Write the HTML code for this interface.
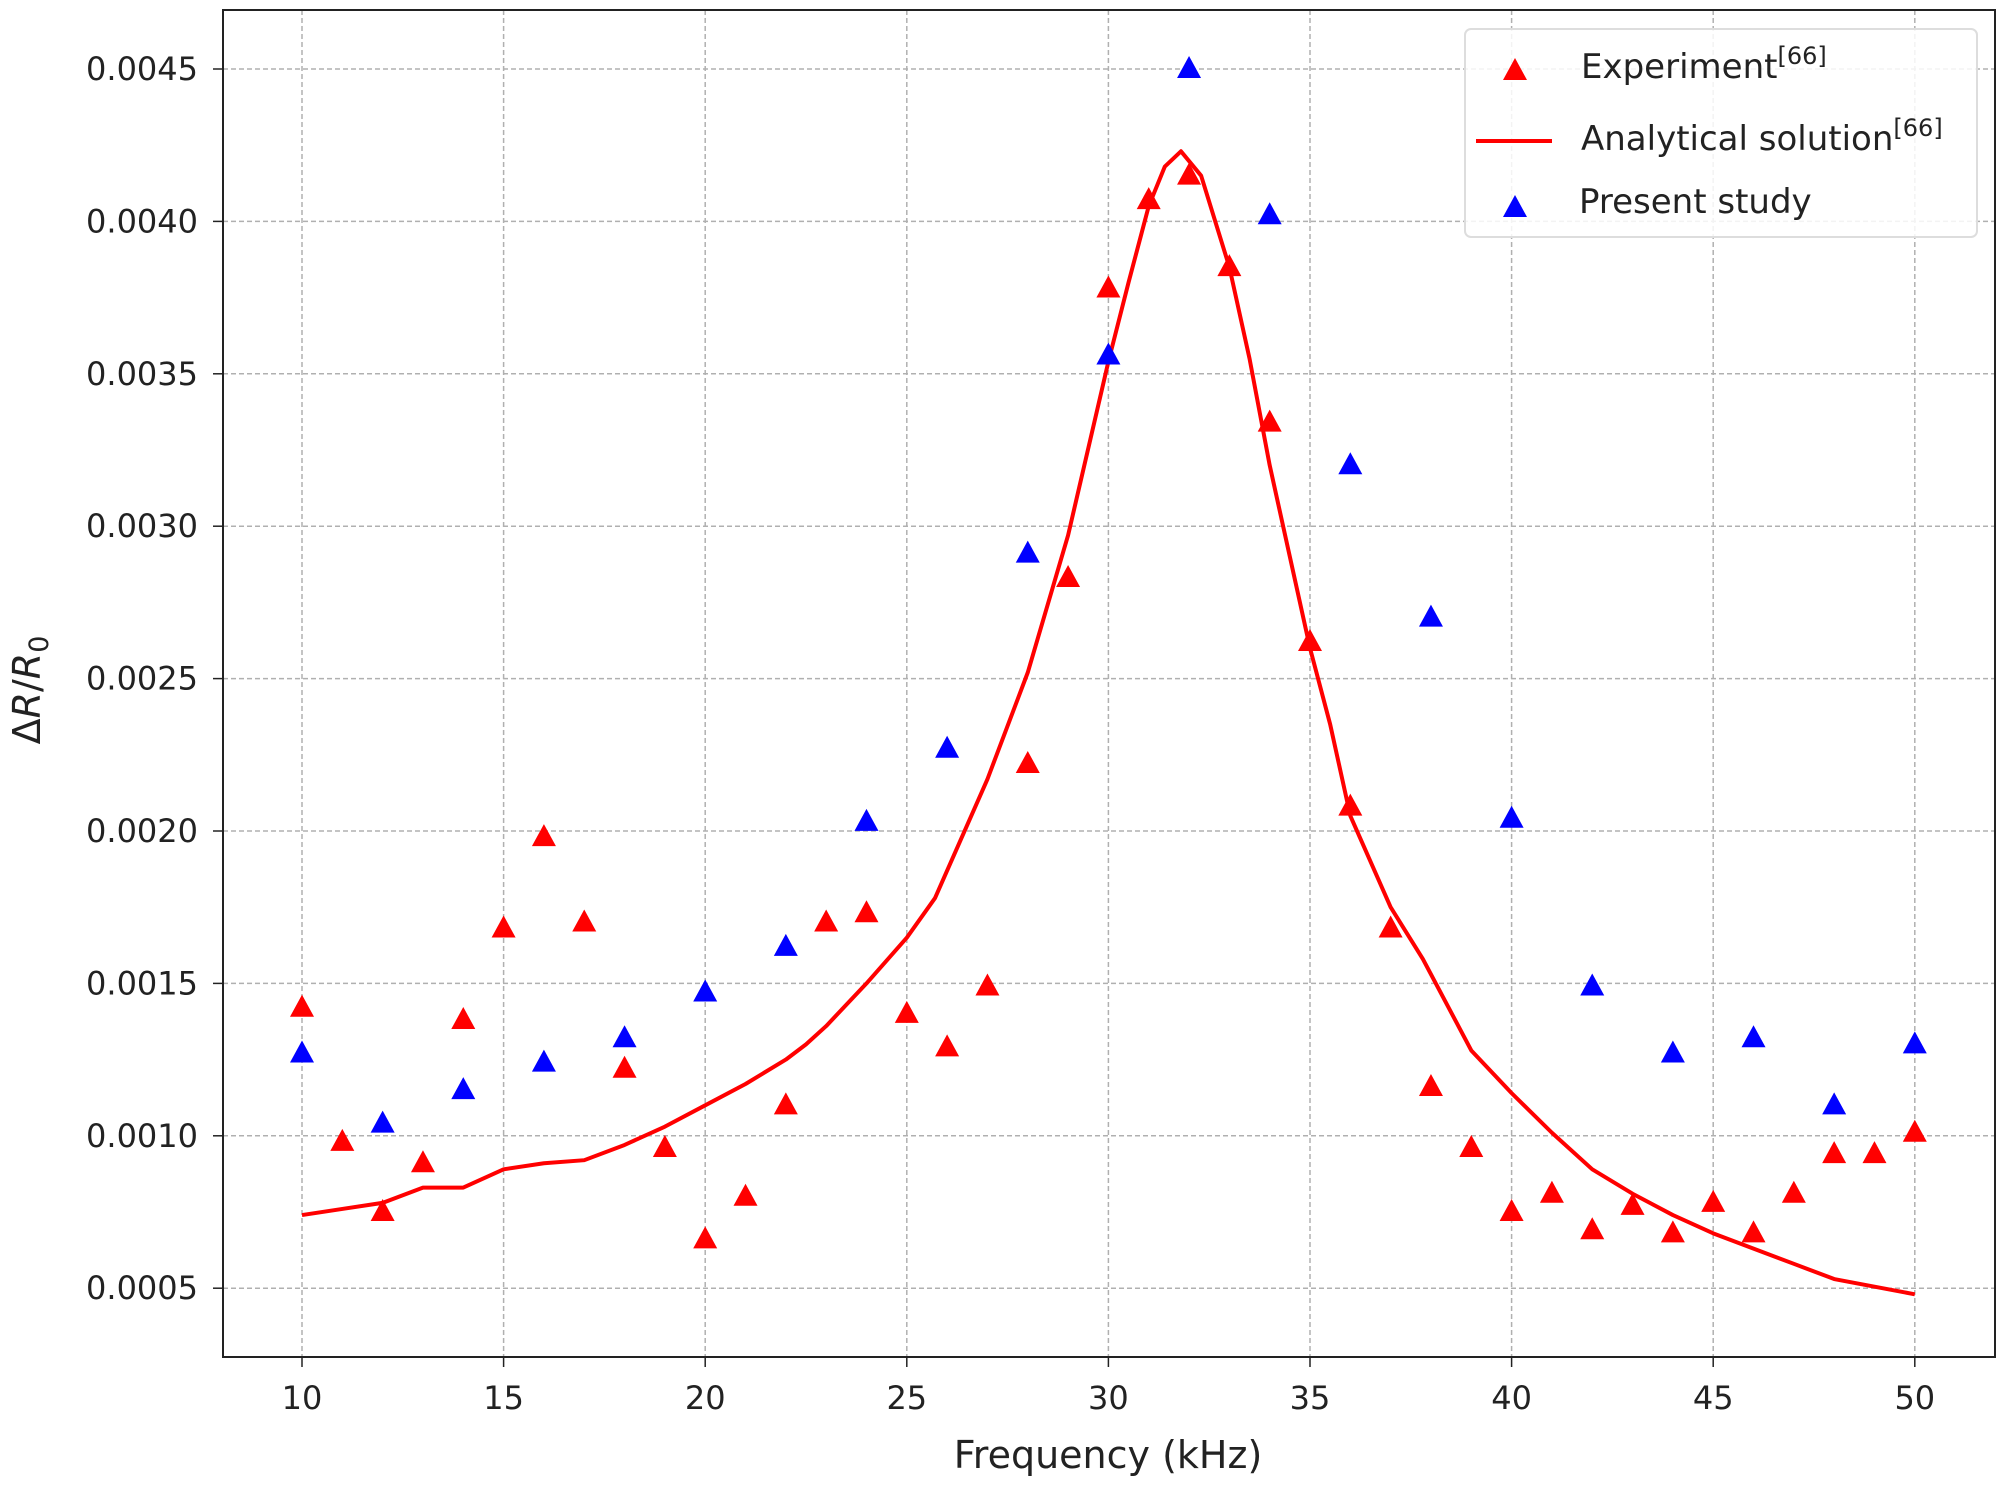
<!DOCTYPE html>
<html><head><meta charset="utf-8"><style>
body{margin:0;background:#fff}
svg text{font-family:"DejaVu Sans","Liberation Sans",sans-serif;fill:#222}
</style></head><body>
<svg id="s" width="2008" height="1487" xmlns="http://www.w3.org/2000/svg"></svg>
<script>
const s=document.getElementById('s');
const X=f=>302+(f-10)*40.32, Y=v=>69+(0.0045-v)/0.0005*152.4;
let h='';
for(let f=10;f<=50;f+=5){const x=X(f);h+=`<line x1="${x}" y1="10" x2="${x}" y2="1357" stroke="#b0b0b0" stroke-width="1.5" stroke-dasharray="5,3"/>`;
h+=`<line x1="${x}" y1="1357" x2="${x}" y2="1367" stroke="#222" stroke-width="1.5"/><text x="${x}" y="1409" font-size="32" text-anchor="middle">${f}</text>`;}
for(let i=1;i<=9;i++){const v=i*0.0005,y=Y(v);h+=`<line x1="223" y1="${y}" x2="1995" y2="${y}" stroke="#b0b0b0" stroke-width="1.5" stroke-dasharray="5,3"/>`;
h+=`<line x1="213" y1="${y}" x2="223" y2="${y}" stroke="#222" stroke-width="1.5"/><text x="198" y="${y+11}" font-size="32" text-anchor="end">${v.toFixed(4)}</text>`;}
const L=[[10,0.00074],[11,0.00076],[12,0.00078],[13,0.00083],[14,0.00083],[15,0.00089],[16,0.00091],[17,0.00092],[18,0.00097],[19,0.00103],[20,0.0011],[21,0.00117],[22,0.00125],[22.5,0.0013],[23,0.00136],[24,0.0015],[25,0.00165],[25.7,0.00178],[27,0.00217],[28,0.00252],[29,0.00297],[30,0.00354],[30.5,0.0038],[31,0.00405],[31.4,0.00418],[31.8,0.00423],[32.3,0.00415],[33,0.00385],[33.5,0.00355],[34,0.0032],[34.5,0.0029],[35,0.0026],[35.5,0.00235],[36,0.00205],[37,0.00175],[37.8,0.00158],[39,0.00128],[40,0.00114],[41,0.00101],[42,0.00089],[43,0.00081],[44,0.00074],[45,0.00068],[46,0.00063],[47,0.00058],[48,0.00053],[50,0.00048]];
h+=`<polyline fill="none" stroke="#f00" stroke-width="4" stroke-linejoin="round" points="${L.map(p=>X(p[0])+','+Y(p[1])).join(' ')}"/>`;
const R=[0.00142,0.00098,0.00075,0.00091,0.00138,0.00168,0.00198,0.0017,0.00122,0.00096,0.00066,0.0008,0.0011,0.0017,0.00173,0.0014,0.00129,0.00149,0.00222,0.00283,0.00378,0.00407,0.00415,0.00385,0.00334,0.00262,0.00208,0.00168,0.00116,0.00096,0.00075,0.00081,0.00069,0.00077,0.00068,0.00078,0.00068,0.00081,0.00094,0.00094,0.00101];
const B=[0.00127,0.00104,0.00115,0.00124,0.00132,0.00147,0.00162,0.00203,0.00227,0.00291,0.00356,0.0045,0.00402,0.0032,0.0027,0.00204,0.00149,0.00127,0.00132,0.0011,0.0013];
const tri=(x,y,c)=>`<polygon points="${x},${y-13} ${x-12},${y+9} ${x+12},${y+9}" fill="${c}"/>`;
R.forEach((v,i)=>h+=tri(X(10+i),Y(v),'#f00'));
B.forEach((v,i)=>h+=tri(X(10+2*i),Y(v),'#00f'));
h+=`<rect x="223" y="10" width="1772" height="1347" fill="none" stroke="#222" stroke-width="2"/>`;
h+=`<rect x="1465" y="29" width="512" height="208" rx="6" fill="#fff" fill-opacity="0.85" stroke="#ddd" stroke-width="2"/>`;
h+=tri(1515,71,'#f00')+`<line x1="1476" y1="141" x2="1552" y2="141" stroke="#f00" stroke-width="4"/>`+tri(1515,208,'#00f');
h+=`<text x="1581" y="78" font-size="34">Experiment<tspan font-size="24" dy="-14">[66]</tspan></text>`;
h+=`<text x="1581" y="150" font-size="34">Analytical solution<tspan font-size="24" dy="-14">[66]</tspan></text>`;
h+=`<text x="1579" y="213" font-size="34">Present study</text>`;
h+=`<text x="1108" y="1468" font-size="38" text-anchor="middle">Frequency (kHz)</text>`;
h+=`<text transform="translate(40,690) rotate(-90)" font-size="38" text-anchor="middle">Δ<tspan font-style="italic">R</tspan>/<tspan font-style="italic">R</tspan><tspan font-size="27" dy="8">0</tspan></text>`;
s.innerHTML=h;
</script>
</body></html>
